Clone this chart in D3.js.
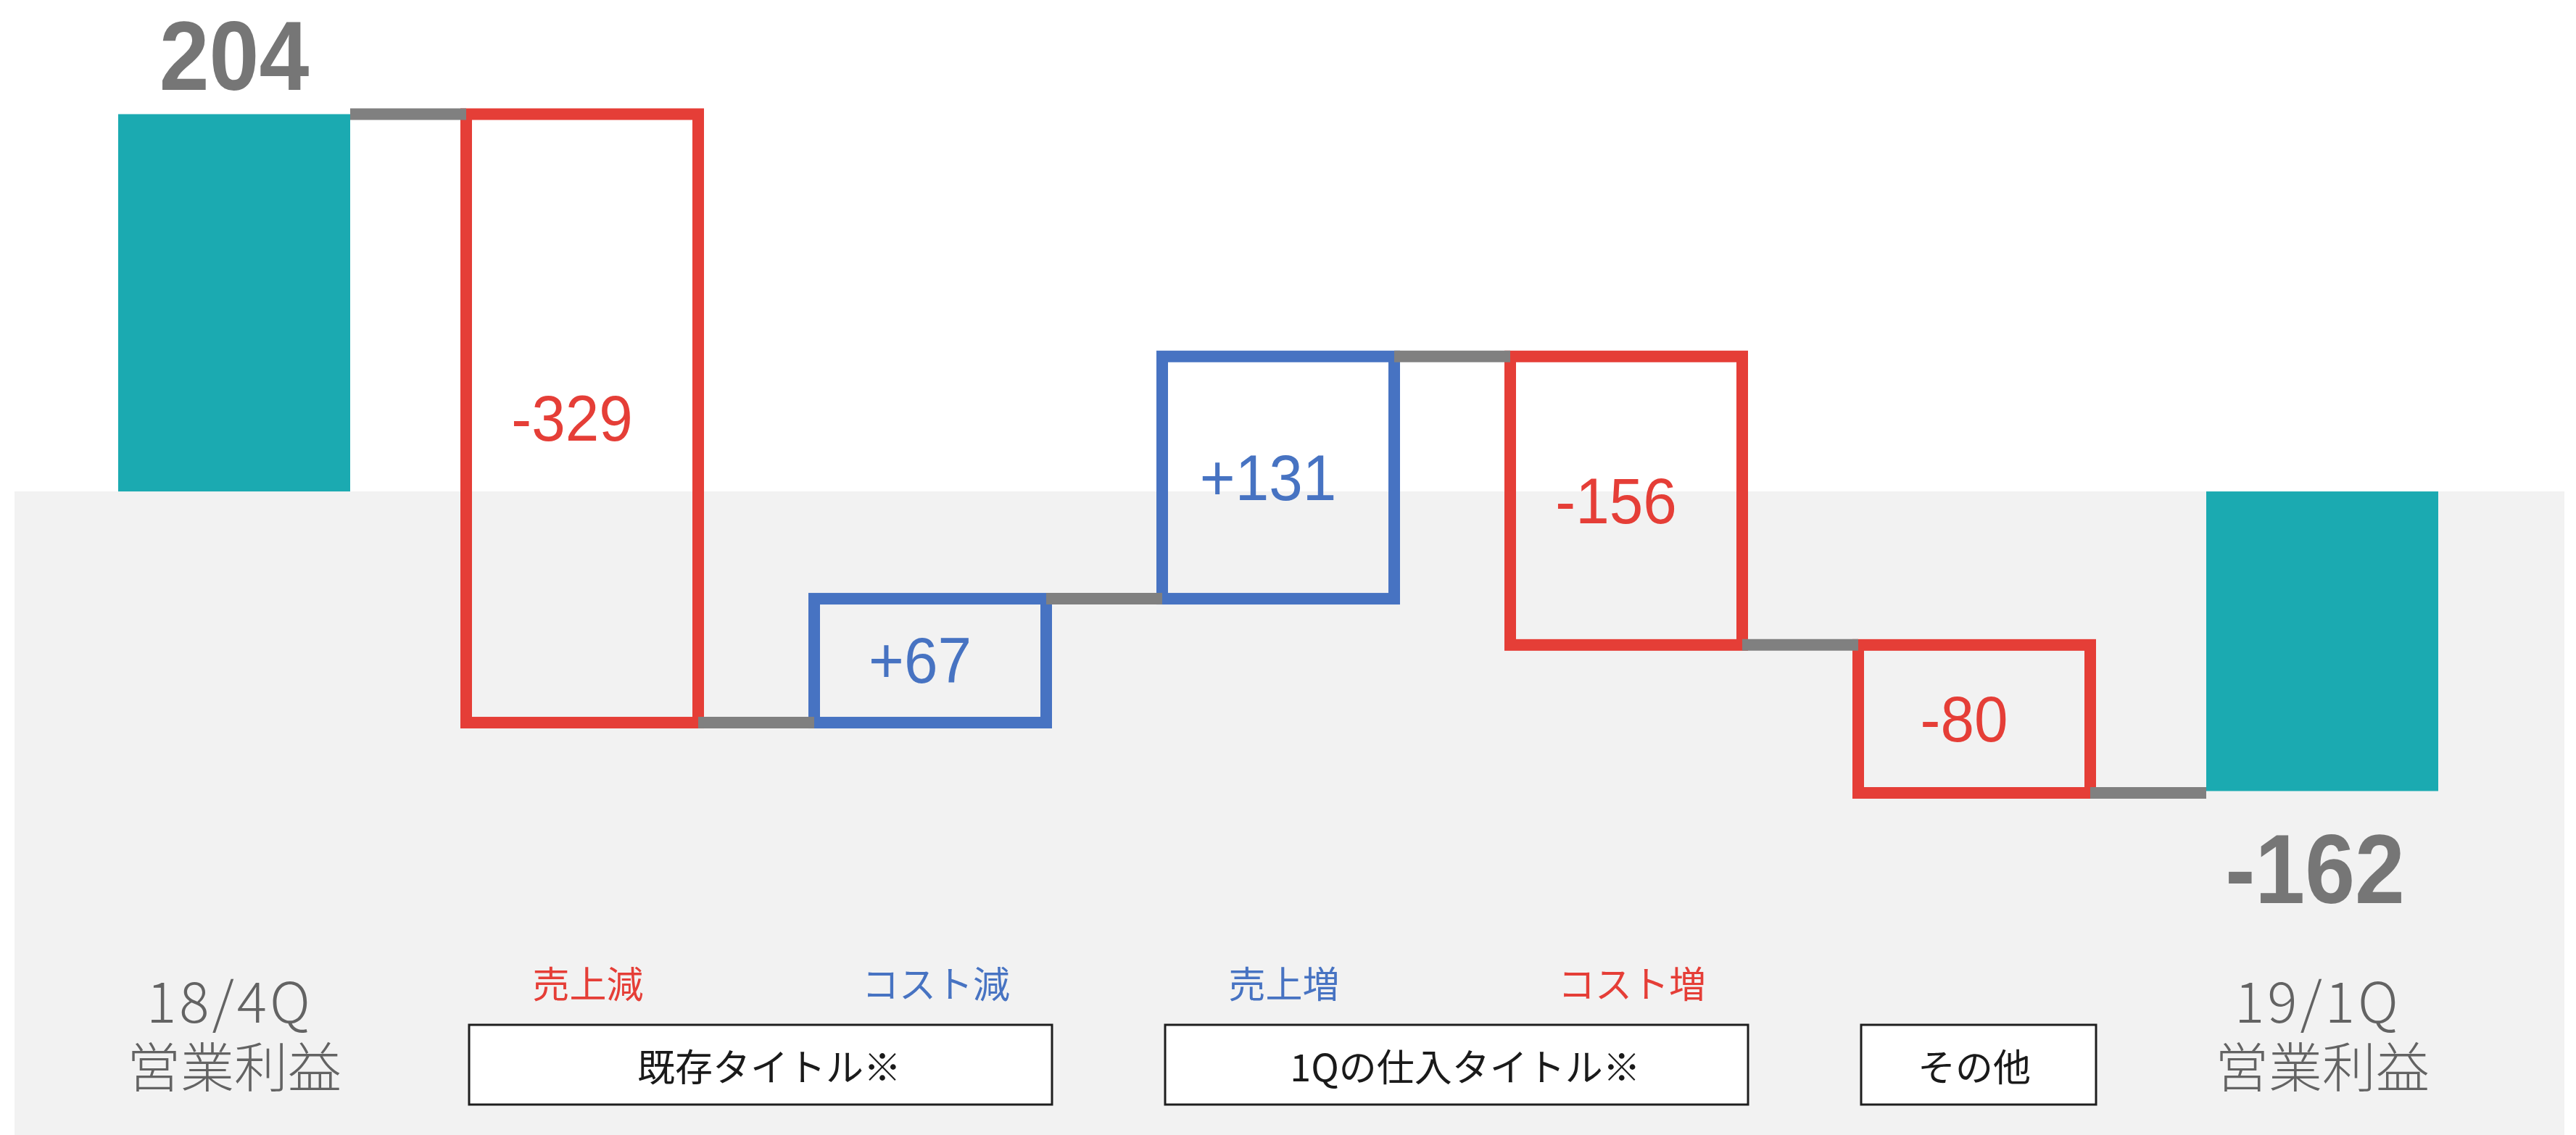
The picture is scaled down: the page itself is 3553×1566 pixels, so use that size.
<!DOCTYPE html>
<html>
<head>
<meta charset="utf-8">
<script src="https://cdn.jsdelivr.net/npm/d3@7"></script>
<style>
  html, body { margin: 0; padding: 0; background: #ffffff; }
  svg { display: block; }
</style>
</head>
<body>
<div id="chart"></div>
<script>
// ---------- data ----------
const categories   = ["18/4Q 営業利益", "売上減", "コスト減", "売上増", "コスト増", "その他", "19/1Q 営業利益"];
const values       = [204, -329, 67, 131, -156, -80, -162];
const kinds        = ["total", "delta", "delta", "delta", "delta", "delta", "total"];
const valueLabels  = ["204", "-329", "+67", "+131", "-156", "-80", "-162"];
const subLabels    = ["", "売上減", "コスト減", "売上増", "コスト増", "", ""];
const totalLine1   = ["18/4Q", "", "", "", "", "", "19/1Q"];
const totalLine2   = ["営業利益", "", "", "", "", "", "営業利益"];
const groupNames   = ["既存タイトル※", "1Qの仕入タイトル※", "その他"];
const groupFirst   = [1, 3, 5];
const groupLast    = [2, 4, 5];

// ---------- layout ----------
const W = 3553, H = 1566;
const C = {
  teal: "#1BAAB1", red: "#E53E37", blue: "#4773C2", conn: "#808080",
  band: "#F2F2F2", big: "#767676", cat: "#636363", dark: "#1E1E1E"
};
const jp = "'Noto Sans CJK JP', 'Noto Sans', sans-serif";
const num = "'Liberation Sans', Arial, sans-serif";

// running totals: box spans and connector levels
let acc = 0;
const rows = values.map((v, i) => {
  let y0, y1;
  if (kinds[i] === "total") { y0 = 0; y1 = v; if (i === 0) acc = v; }
  else { y0 = acc; y1 = acc + v; acc = y1; }
  return { i, y0, y1, level: acc };
});
const levels = rows.map(d => d.level);

const x = d3.scaleBand()
  .domain(d3.range(categories.length))
  .range([83, 3443])
  .paddingInner(1 / 3)
  .paddingOuter(1 / 6);
const bw = x.bandwidth();

const y = d3.scaleLinear()
  .domain([d3.min(levels.slice(0, -1)), values[0]])
  .range([1094, 157.5]);

const svg = d3.select("#chart").append("svg")
  .attr("width", W).attr("height", H)
  .attr("viewBox", `0 0 ${W} ${H}`);

// background band (below zero)
svg.append("rect")
  .attr("x", 20).attr("y", y(0))
  .attr("width", 3537 - 20).attr("height", H - y(0))
  .attr("fill", C.band);

// total bars
svg.append("g").selectAll("rect")
  .data(rows.filter(d => kinds[d.i] === "total"))
  .join("rect")
  .attr("x", d => x(d.i))
  .attr("width", bw)
  .attr("y", d => y(Math.max(0, values[d.i])))
  .attr("height", d => Math.abs(y(values[d.i]) - y(0)))
  .attr("fill", C.teal);

// delta boxes
svg.append("g").selectAll("rect")
  .data(rows.filter(d => kinds[d.i] === "delta"))
  .join("rect")
  .attr("x", d => x(d.i))
  .attr("width", bw)
  .attr("y", d => y(Math.max(d.y0, d.y1)))
  .attr("height", d => Math.abs(y(d.y0) - y(d.y1)))
  .attr("fill", "none")
  .attr("stroke", d => values[d.i] < 0 ? C.red : C.blue)
  .attr("stroke-width", 16);

// connectors
svg.append("g").selectAll("line")
  .data(d3.range(categories.length - 1))
  .join("line")
  .attr("x1", i => x(i) + bw)
  .attr("x2", i => x(i + 1))
  .attr("y1", i => y(levels[i]))
  .attr("y2", i => y(levels[i]))
  .attr("stroke", C.conn)
  .attr("stroke-width", 16);

// labels inside delta boxes
svg.append("g").selectAll("text")
  .data(rows.filter(d => kinds[d.i] === "delta"))
  .join("text")
  .attr("transform", d => `translate(${x(d.i) + bw / 2 - 14},${(y(d.y0) + y(d.y1)) / 2}) scale(0.94,1)`)
  .attr("text-anchor", "middle")
  .attr("dominant-baseline", "central")
  .attr("font-family", num)
  .attr("font-size", 89)
  .attr("fill", d => values[d.i] < 0 ? C.red : C.blue)
  .text(d => valueLabels[d.i]);

// big total labels
svg.append("g").selectAll("text")
  .data(rows.filter(d => kinds[d.i] === "total"))
  .join("text")
  .attr("transform", d => {
    const cx = x(d.i) + bw / 2 - (values[d.i] < 0 ? 10 : 0);
    const by = values[d.i] >= 0 ? y(values[d.i]) - 34 : y(values[d.i]) + 155;
    return `translate(${cx},${by}) scale(0.91,1)`;
  })
  .attr("text-anchor", "middle")
  .attr("font-family", num)
  .attr("font-weight", "bold")
  .attr("font-size", 136)
  .attr("fill", C.big)
  .text(d => valueLabels[d.i]);

// total category labels (two lines in one text)
const tl = svg.append("g").selectAll("text")
  .data(rows.filter(d => kinds[d.i] === "total"))
  .join("text")
  .attr("text-anchor", "middle")
  .attr("font-family", jp)
  .attr("font-weight", 300)
  .attr("fill", C.cat);
tl.append("tspan")
  .attr("x", d => x(d.i) + bw / 2 - 6)
  .attr("y", 1411)
  .attr("font-size", 77)
  .attr("letter-spacing", 4)
  .text(d => totalLine1[d.i]);
tl.append("tspan")
  .attr("x", d => x(d.i) + bw / 2)
  .attr("y", 1500)
  .attr("font-size", 74)
  .attr("letter-spacing", 0)
  .text(d => totalLine2[d.i]);

// sub labels for deltas
svg.append("g").selectAll("text")
  .data(rows.filter(d => subLabels[d.i] !== ""))
  .join("text")
  .attr("x", d => x(d.i) + bw / 2 + 8)
  .attr("y", 1377)
  .attr("text-anchor", "middle")
  .attr("font-family", jp)
  .attr("font-size", 51)
  .attr("fill", d => values[d.i] < 0 ? C.red : C.blue)
  .text(d => subLabels[d.i]);

// group boxes
const gb = svg.append("g").selectAll("g")
  .data(groupNames.map((n, k) => ({ n, a: groupFirst[k], b: groupLast[k] })))
  .join("g");
gb.append("rect")
  .attr("x", d => x(d.a) + 4)
  .attr("y", 1414)
  .attr("width", d => x(d.b) + bw - x(d.a) + 4)
  .attr("height", 110)
  .attr("fill", "#ffffff")
  .attr("stroke", C.dark)
  .attr("stroke-width", 3);
gb.append("text")
  .attr("x", d => (x(d.a) + x(d.b) + bw) / 2 + (d.a === d.b ? 0 : 18))
  .attr("y", 1469)
  .attr("text-anchor", "middle")
  .attr("dominant-baseline", "central")
  .attr("font-family", jp)
  .attr("font-size", 52)
  .attr("fill", "#1a1a1a")
  .text(d => d.n);
</script>
</body>
</html>
